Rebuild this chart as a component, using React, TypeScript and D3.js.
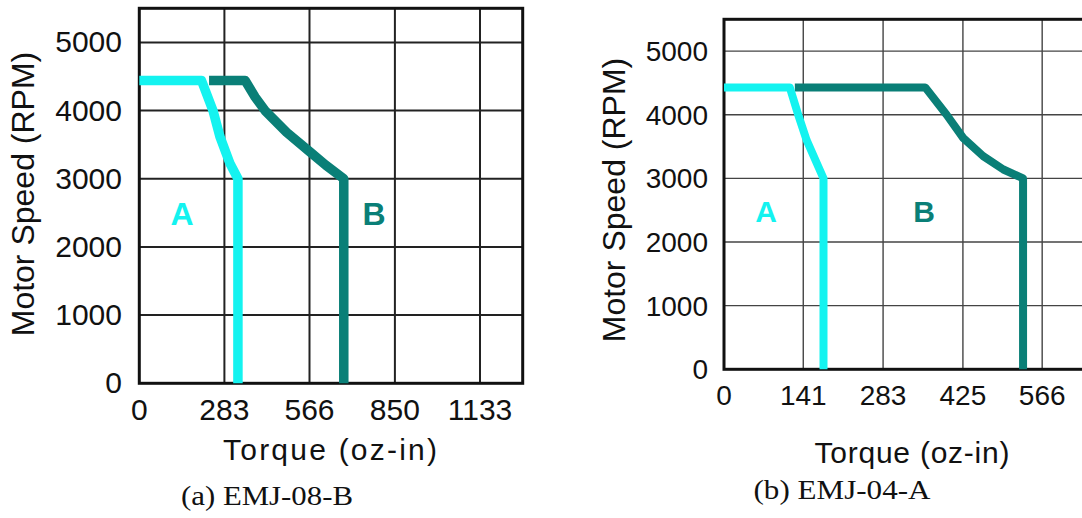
import React, { useRef, useEffect } from 'react';
import * as d3 from 'd3';

// speed axis shared by both panels
const speedTicks = [0, 1000, 2000, 3000, 4000, 5000];

// (a) EMJ-08-B
const torqueTicks08 = [0, 283, 566, 850, 1133];
const torqueA08 = [0, 207, 245, 268, 301, 328, 328];
const speedA08 = [4440, 4440, 4000, 3620, 3230, 3000, 0];
const torqueB08 = [232, 352, 385, 418, 490, 566, 620, 680, 680];
const speedB08 = [4440, 4440, 4200, 4000, 3680, 3400, 3200, 3000, 0];

// (b) EMJ-04-A
const torqueTicks04 = [0, 141, 283, 425, 566];
const torqueA04 = [0, 117, 132, 147, 165, 177, 177];
const speedA04 = [4430, 4430, 4000, 3600, 3240, 3000, 0];
const torqueB04 = [126, 358, 396, 426, 461, 497, 532, 532];
const speedB04 = [4430, 4430, 4000, 3630, 3350, 3140, 3000, 0];

const CYAN = '#14f3f0';
const TEAL = '#0a7f77';
const SANS = '"Liberation Sans", Arial, sans-serif';
const SERIF = '"Liberation Serif", "Times New Roman", serif';

const panels = [
  {
    caption: '(a) EMJ-08-B',
    xMax: 1275, xTicks: torqueTicks08,
    left: 139.3, right: 522.7, top: 8.3, bottom: 383.3,
    torqueA: torqueA08, speedA: speedA08, torqueB: torqueB08, speedB: speedB08,
    lineW: 9.5, gridW: 2, gridColor: '#222',
    tickFont: 30, yLabelX: 122, xLabelDy: 36.7,
    yTitleX: 34, yTitleY: 194,
    xTitleX: 330, xTitleY: 460, xTitleLen: 214,
    capX: 267, capY: 505, capLen: 172,
    aLabel: [182, 225], bLabel: [374, 225], abFont: 32,
  },
  {
    caption: '(b) EMJ-04-A',
    xMax: 708, xTicks: torqueTicks04,
    left: 724, right: 1122, top: 19.3, bottom: 369.3,
    torqueA: torqueA04, speedA: speedA04, torqueB: torqueB04, speedB: speedB04,
    lineW: 8, gridW: 1.4, gridColor: '#444',
    tickFont: 28, yLabelX: 708, xLabelDy: 35.7,
    yTitleX: 625, yTitleY: 200,
    xTitleX: 912, xTitleY: 463, xTitleLen: 195,
    capX: 842, capY: 499, capLen: 177,
    aLabel: [766, 222], bLabel: [924, 222], abFont: 30,
  },
];

const drawPanel = (svg, p) => {
  const x = d3.scaleLinear().domain([0, p.xMax]).range([p.left, p.right]);
  const y = d3.scaleLinear().domain([0, 5500]).range([p.bottom, p.top]);
  const g = svg.append('g');

  g.selectAll('.vgrid')
    .data(p.xTicks.slice(1))
    .enter()
    .append('line')
    .attr('x1', (d) => x(d)).attr('x2', (d) => x(d))
    .attr('y1', p.top).attr('y2', p.bottom)
    .attr('stroke', p.gridColor).attr('stroke-width', p.gridW);

  g.selectAll('.hgrid')
    .data(speedTicks.slice(1))
    .enter()
    .append('line')
    .attr('x1', p.left).attr('x2', p.right)
    .attr('y1', (d) => y(d)).attr('y2', (d) => y(d))
    .attr('stroke', p.gridColor).attr('stroke-width', p.gridW);

  g.append('rect')
    .attr('x', p.left).attr('y', p.top)
    .attr('width', p.right - p.left).attr('height', p.bottom - p.top)
    .attr('fill', 'none').attr('stroke', '#111').attr('stroke-width', 3);

  const line = d3.line().x((d) => x(d[0])).y((d) => y(d[1]));

  g.append('path')
    .datum(d3.zip(p.torqueB, p.speedB))
    .attr('d', line)
    .attr('fill', 'none').attr('stroke', TEAL)
    .attr('stroke-width', p.lineW).attr('stroke-linejoin', 'round');

  g.append('path')
    .datum(d3.zip(p.torqueA, p.speedA))
    .attr('d', line)
    .attr('fill', 'none').attr('stroke', CYAN)
    .attr('stroke-width', p.lineW).attr('stroke-linejoin', 'round');

  // tick labels
  g.selectAll('.ylab')
    .data(speedTicks)
    .enter()
    .append('text')
    .attr('x', p.yLabelX).attr('y', (d) => y(d) + 10)
    .attr('text-anchor', 'end')
    .attr('font-family', SANS).attr('font-size', p.tickFont).attr('fill', '#111')
    .text((d) => d);

  g.selectAll('.xlab')
    .data(p.xTicks)
    .enter()
    .append('text')
    .attr('x', (d) => x(d)).attr('y', p.bottom + p.xLabelDy)
    .attr('text-anchor', 'middle')
    .attr('font-family', SANS).attr('font-size', p.tickFont).attr('fill', '#111')
    .text((d) => d);

  // axis titles
  g.append('text')
    .attr('transform', `translate(${p.yTitleX},${p.yTitleY}) rotate(-90)`)
    .attr('text-anchor', 'middle')
    .attr('font-family', SANS).attr('font-size', 32).attr('fill', '#111')
    .text('Motor Speed (RPM)');

  g.append('text')
    .attr('x', p.xTitleX).attr('y', p.xTitleY)
    .attr('text-anchor', 'middle')
    .attr('textLength', p.xTitleLen)
    .attr('font-family', SANS).attr('font-size', 30).attr('fill', '#111')
    .text('Torque (oz-in)');

  // curve labels
  g.append('text')
    .attr('x', p.aLabel[0]).attr('y', p.aLabel[1])
    .attr('text-anchor', 'middle').attr('font-weight', 'bold')
    .attr('font-family', SANS).attr('font-size', p.abFont).attr('fill', CYAN)
    .text('A');

  g.append('text')
    .attr('x', p.bLabel[0]).attr('y', p.bLabel[1])
    .attr('text-anchor', 'middle').attr('font-weight', 'bold')
    .attr('font-family', SANS).attr('font-size', p.abFont).attr('fill', TEAL)
    .text('B');

  // caption
  g.append('text')
    .attr('x', p.capX).attr('y', p.capY)
    .attr('text-anchor', 'middle')
    .attr('textLength', p.capLen)
    .attr('lengthAdjust', 'spacingAndGlyphs')
    .attr('font-family', SERIF).attr('font-size', 27).attr('fill', '#111')
    .text(p.caption);
};

const App = () => {
  const svgRef = useRef(null);

  useEffect(() => {
    const svg = d3.select(svgRef.current);
    svg.selectAll('*').remove();
    panels.forEach((p) => drawPanel(svg, p));
  }, []);

  return (
    <svg
      ref={svgRef}
      width={1082}
      height={518}
      style={{ position: 'absolute', left: 0, top: 0, background: '#fff', display: 'block' }}
    />
  );
};

export default App;
